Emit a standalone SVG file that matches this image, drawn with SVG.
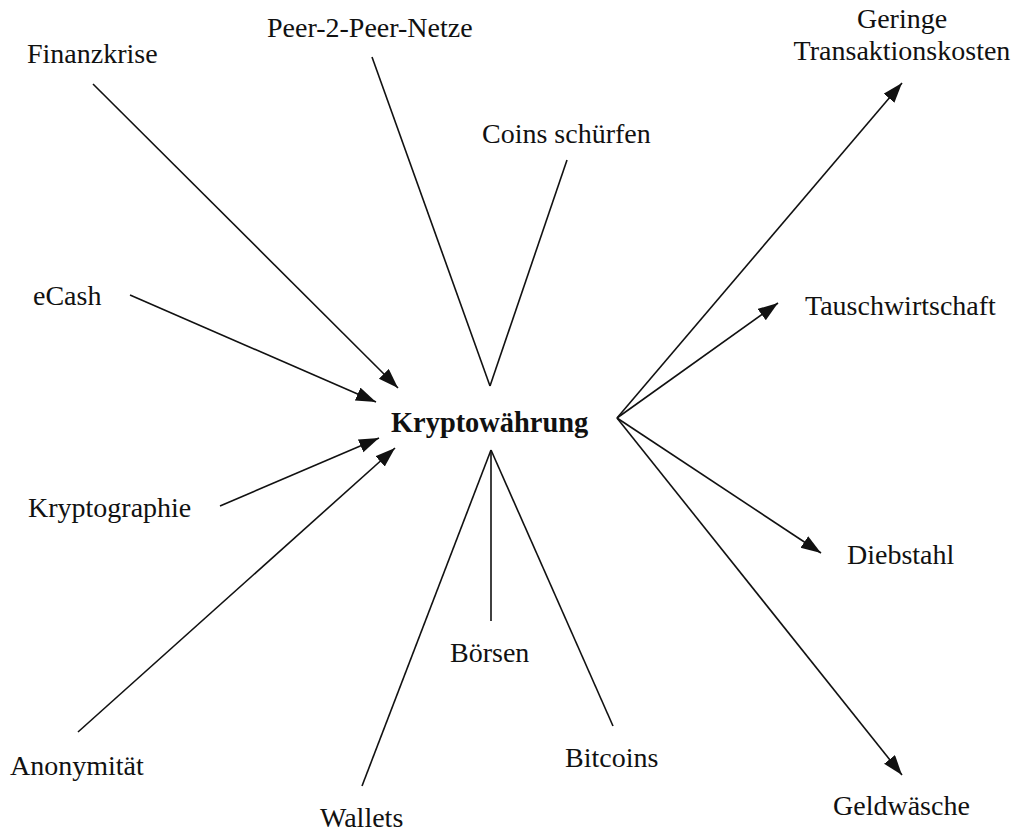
<svg xmlns="http://www.w3.org/2000/svg" width="1020" height="834" viewBox="0 0 1020 834">
<style>
text{font-family:"Liberation Serif","Times New Roman",serif;font-size:28px;fill:#111}
.c{font-weight:bold;font-size:28.4px}
line{stroke:#111;stroke-width:1.6;fill:none}
.a{marker-end:url(#ah)}
</style>
<defs>
<marker id="ah" markerUnits="userSpaceOnUse" markerWidth="22" markerHeight="16" refX="20" refY="7" orient="auto" viewBox="0 0 22 16">
<path d="M0,0 L20,7 L0,14 z" fill="#111"/>
</marker>
</defs>
<rect width="1020" height="834" fill="#fff"/>
<g id="connectors">
<line class="a" x1="93" y1="84" x2="398" y2="388"/>
<line x1="372" y1="57" x2="490" y2="386"/>
<line x1="567" y1="160" x2="490" y2="386"/>
<line class="a" x1="130" y1="295" x2="376" y2="402"/>
<line class="a" x1="220" y1="506" x2="379" y2="438"/>
<line class="a" x1="78" y1="732" x2="395" y2="448"/>
<line x1="362" y1="786" x2="491" y2="450"/>
<line x1="491" y1="621" x2="491" y2="450"/>
<line x1="613" y1="726" x2="491" y2="450"/>
<line class="a" x1="617" y1="418" x2="902" y2="83"/>
<line class="a" x1="617" y1="418" x2="778" y2="303"/>
<line class="a" x1="617" y1="418" x2="821" y2="553"/>
<line class="a" x1="617" y1="418" x2="902" y2="775"/>
</g>
<g id="center"><text class="c" x="391" y="432">Kryptowährung</text></g>
<g id="finanzkrise"><text x="27" y="63">Finanzkrise</text></g>
<g id="p2p"><text x="267" y="37">Peer-2-Peer-Netze</text></g>
<g id="coins"><text x="482" y="143">Coins schürfen</text></g>
<g id="ecash"><text x="33" y="305">eCash</text></g>
<g id="kryptographie"><text x="28" y="517">Kryptographie</text></g>
<g id="anonymitaet"><text x="10" y="775">Anonymität</text></g>
<g id="wallets"><text x="320" y="827">Wallets</text></g>
<g id="boersen"><text x="450" y="662">Börsen</text></g>
<g id="bitcoins"><text x="565" y="767">Bitcoins</text></g>
<g id="geringe"><text x="902" y="28" text-anchor="middle">Geringe</text><text x="902" y="60" text-anchor="middle">Transaktionskosten</text></g>
<g id="tausch"><text x="805" y="315">Tauschwirtschaft</text></g>
<g id="diebstahl"><text x="847" y="564">Diebstahl</text></g>
<g id="geldwaesche"><text x="833" y="815">Geldwäsche</text></g>
</svg>
